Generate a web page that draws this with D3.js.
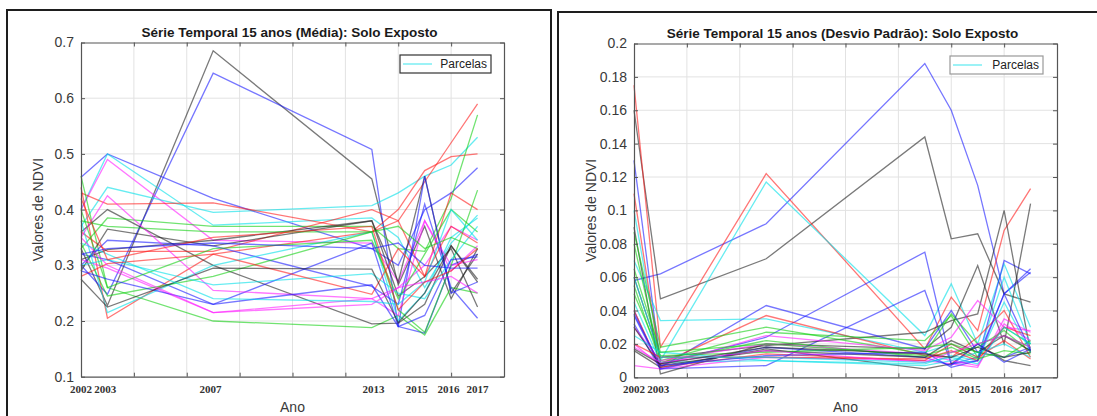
<!DOCTYPE html>
<html>
<head>
<meta charset="utf-8">
<script src="https://cdn.jsdelivr.net/npm/d3@7"></script>
<style>
  html, body { margin: 0; padding: 0; background: #fff; }
  svg { display: block; }
</style>
</head>
<body>
<svg id="chart" width="1097" height="416"></svg>
<script>
// Position of each survey date on the time axis (axis units, one grid step per unit)
const surveyPos = [0, 0.5, 2.5, 5.5, 6, 6.5, 7, 7.5];
// Year labels under the axis and where they sit on the same axis
const yearLabels = ["2002", "2003", "2007", "2013", "2015", "2016", "2017"];
const yearLabelPos = [0, 0.46, 2.45, 5.53, 6.35, 6.95, 7.5];

const meanTicks = [0.1, 0.2, 0.3, 0.4, 0.5, 0.6, 0.7];
const stdTicks = [0, 0.02, 0.04, 0.06, 0.08, 0.1, 0.12, 0.14, 0.16, 0.18, 0.2];

// Colour of each plot (parcela), MATLAB short colour names
const meanColors = ["k","b","b","c","m","c","r","r","g","k","g","r","k","k","b",
                    "b","c","m","m","g","g","c","r","b","k","m","g","c","r","b"];
const stdColors  = ["b","k","r","c","b","b","k","k","c","b","r","g","g","m","m",
                    "k","g","c","r","b","m","k","c","g","r","b","m","c","g","k"];

// Mean NDVI per plot at each survey
const meanSeries = [
  [0.33, 0.228, 0.685, 0.455, 0.265, 0.37, 0.24, 0.33],
  [0.30, 0.248, 0.645, 0.508, 0.19, 0.178, 0.30, 0.32],
  [0.458, 0.50, 0.42, 0.33, 0.30, 0.40, 0.43, 0.475],
  [0.40, 0.50, 0.372, 0.385, 0.35, 0.26, 0.34, 0.39],
  [0.40, 0.49, 0.345, 0.34, 0.27, 0.38, 0.29, 0.335],
  [0.37, 0.44, 0.395, 0.407, 0.43, 0.46, 0.48, 0.53],
  [0.43, 0.41, 0.412, 0.36, 0.40, 0.47, 0.495, 0.50],
  [0.44, 0.205, 0.32, 0.36, 0.38, 0.45, 0.52, 0.59],
  [0.46, 0.26, 0.20, 0.188, 0.21, 0.175, 0.26, 0.25],
  [0.36, 0.40, 0.30, 0.195, 0.196, 0.23, 0.335, 0.275],
  [0.33, 0.385, 0.37, 0.37, 0.33, 0.325, 0.42, 0.57],
  [0.36, 0.325, 0.325, 0.40, 0.38, 0.28, 0.43, 0.40],
  [0.29, 0.365, 0.335, 0.38, 0.245, 0.28, 0.33, 0.225],
  [0.31, 0.328, 0.345, 0.38, 0.27, 0.46, 0.25, 0.32],
  [0.30, 0.345, 0.335, 0.262, 0.23, 0.41, 0.26, 0.205],
  [0.32, 0.31, 0.23, 0.34, 0.19, 0.46, 0.25, 0.27],
  [0.38, 0.215, 0.30, 0.36, 0.20, 0.25, 0.35, 0.385],
  [0.35, 0.425, 0.255, 0.24, 0.21, 0.38, 0.30, 0.31],
  [0.31, 0.295, 0.215, 0.24, 0.26, 0.30, 0.37, 0.345],
  [0.40, 0.26, 0.33, 0.345, 0.24, 0.32, 0.40, 0.36],
  [0.34, 0.245, 0.28, 0.36, 0.22, 0.18, 0.30, 0.435],
  [0.30, 0.31, 0.265, 0.285, 0.25, 0.24, 0.31, 0.37],
  [0.28, 0.303, 0.32, 0.248, 0.33, 0.28, 0.37, 0.34],
  [0.29, 0.275, 0.23, 0.265, 0.19, 0.21, 0.31, 0.315],
  [0.275, 0.225, 0.295, 0.293, 0.197, 0.25, 0.335, 0.27],
  [0.35, 0.30, 0.215, 0.23, 0.26, 0.27, 0.28, 0.25],
  [0.38, 0.37, 0.36, 0.36, 0.37, 0.33, 0.35, 0.33],
  [0.34, 0.32, 0.24, 0.235, 0.23, 0.27, 0.40, 0.345],
  [0.42, 0.31, 0.35, 0.37, 0.22, 0.27, 0.29, 0.33],
  [0.32, 0.33, 0.34, 0.33, 0.34, 0.30, 0.295, 0.295]
];

// Standard deviation of NDVI per plot at each survey
const stdSeries = [
  [0.058, 0.062, 0.092, 0.188, 0.16, 0.115, 0.05, 0.063],
  [0.16, 0.047, 0.071, 0.144, 0.083, 0.086, 0.05, 0.045],
  [0.175, 0.018, 0.122, 0.017, 0.048, 0.028, 0.088, 0.113],
  [0.10, 0.01, 0.117, 0.025, 0.056, 0.02, 0.068, 0.03],
  [0.13, 0.008, 0.024, 0.075, 0.008, 0.01, 0.07, 0.062],
  [0.04, 0.005, 0.007, 0.052, 0.008, 0.012, 0.05, 0.065],
  [0.09, 0.002, 0.02, 0.017, 0.03, 0.067, 0.02, 0.104],
  [0.06, 0.012, 0.019, 0.027, 0.034, 0.038, 0.10, 0.015],
  [0.07, 0.034, 0.035, 0.015, 0.02, 0.012, 0.06, 0.02],
  [0.037, 0.006, 0.043, 0.017, 0.04, 0.015, 0.012, 0.018],
  [0.11, 0.008, 0.037, 0.013, 0.012, 0.024, 0.04, 0.012],
  [0.087, 0.018, 0.03, 0.014, 0.038, 0.02, 0.025, 0.018],
  [0.08, 0.01, 0.027, 0.022, 0.037, 0.012, 0.03, 0.02],
  [0.02, 0.007, 0.025, 0.016, 0.024, 0.046, 0.03, 0.028],
  [0.007, 0.005, 0.012, 0.01, 0.008, 0.006, 0.035, 0.027],
  [0.016, 0.006, 0.017, 0.005, 0.008, 0.02, 0.01, 0.007],
  [0.055, 0.009, 0.022, 0.012, 0.015, 0.018, 0.028, 0.015],
  [0.045, 0.009, 0.01, 0.008, 0.013, 0.01, 0.045, 0.015],
  [0.04, 0.006, 0.014, 0.01, 0.02, 0.012, 0.022, 0.011],
  [0.032, 0.005, 0.018, 0.012, 0.007, 0.02, 0.009, 0.017],
  [0.03, 0.01, 0.02, 0.014, 0.01, 0.007, 0.032, 0.022],
  [0.03, 0.007, 0.016, 0.012, 0.022, 0.015, 0.025, 0.016],
  [0.025, 0.015, 0.01, 0.007, 0.01, 0.015, 0.02, 0.012],
  [0.05, 0.013, 0.015, 0.018, 0.02, 0.015, 0.012, 0.022],
  [0.02, 0.012, 0.012, 0.011, 0.016, 0.01, 0.03, 0.025],
  [0.038, 0.007, 0.013, 0.015, 0.006, 0.01, 0.05, 0.016],
  [0.018, 0.009, 0.016, 0.009, 0.015, 0.02, 0.025, 0.018],
  [0.06, 0.012, 0.012, 0.009, 0.012, 0.008, 0.03, 0.02],
  [0.065, 0.015, 0.02, 0.013, 0.018, 0.011, 0.016, 0.014],
  [0.017, 0.008, 0.018, 0.014, 0.012, 0.018, 0.012, 0.015]
];

const colorMap = { c: "#00e0e8", r: "#ff1a1a", g: "#12d012", b: "#1a1aff", k: "#222222", m: "#ff1aff" };

const svg = d3.select("#chart");

const panels = [
  {
    frame: [7, 10, 544, 420],
    plot: { x0: 81, x1: 504, y0: 42.5, y1: 376.7 },
    domain: [0.1, 0.7], ticks: meanTicks,
    title: "Série Temporal 15 anos (Média): Solo Exposto",
    series: meanSeries, colors: meanColors,
    legend: { x: 400, y: 55, w: 91, h: 18, stroke: "#333" }
  },
  {
    frame: [558, 12, 540, 420],
    plot: { x0: 634, x1: 1057, y0: 43.5, y1: 377.3 },
    domain: [0, 0.2], ticks: stdTicks,
    title: "Série Temporal 15 anos (Desvio Padrão): Solo Exposto",
    series: stdSeries, colors: stdColors,
    legend: { x: 950, y: 56, w: 93, h: 18, stroke: "#999" }
  }
];

panels.forEach(p => {
  const [fx, fy, fw, fh] = p.frame;
  svg.append("rect")
    .attr("x", fx).attr("y", fy).attr("width", fw).attr("height", fh)
    .attr("fill", "none").attr("stroke", "#1e1e1e").attr("stroke-width", 2);

  const x = d3.scaleLinear().domain([0, 8]).range([p.plot.x0, p.plot.x1]);
  const y = d3.scaleLinear().domain(p.domain).range([p.plot.y1, p.plot.y0]);
  const g = svg.append("g");

  // grid
  g.append("g").selectAll("line.vg").data(d3.range(1, 8)).join("line")
    .attr("x1", d => x(d)).attr("x2", d => x(d))
    .attr("y1", p.plot.y0).attr("y2", p.plot.y1)
    .attr("stroke", "#e2e2e2").attr("stroke-width", 1);
  g.append("g").selectAll("line.hg").data(p.ticks.slice(1, -1)).join("line")
    .attr("x1", p.plot.x0).attr("x2", p.plot.x1)
    .attr("y1", d => y(d)).attr("y2", d => y(d))
    .attr("stroke", "#e2e2e2").attr("stroke-width", 1);

  // series
  const line = d3.line().x((d, i) => x(surveyPos[i])).y(d => y(d));
  g.append("g").selectAll("path").data(p.series).join("path")
    .attr("d", line)
    .attr("fill", "none")
    .attr("stroke", (d, i) => colorMap[p.colors[i]])
    .attr("stroke-opacity", 0.6)
    .attr("stroke-width", 1.3)
    .attr("stroke-linejoin", "miter");

  // axes (ticks inside the box)
  const axisStyle = sel => {
    sel.select(".domain").attr("stroke", "#555").attr("stroke-width", 1.2);
    sel.selectAll(".tick line").attr("stroke", "#555");
  };
  g.append("g").attr("transform", `translate(0,${p.plot.y1})`)
    .call(d3.axisBottom(x).ticks(8).tickSize(-4).tickSizeOuter(0).tickFormat(""))
    .call(axisStyle);
  g.append("g").attr("transform", `translate(0,${p.plot.y0})`)
    .call(d3.axisTop(x).ticks(8).tickSize(-4).tickSizeOuter(0).tickFormat(""))
    .call(axisStyle);
  g.append("g").attr("transform", `translate(${p.plot.x1},0)`)
    .call(d3.axisRight(y).tickValues(p.ticks).tickSize(-4).tickSizeOuter(0).tickFormat(""))
    .call(axisStyle);
  const yAx = g.append("g").attr("transform", `translate(${p.plot.x0},0)`)
    .call(d3.axisLeft(y).tickValues(p.ticks).tickSize(-4).tickSizeOuter(0)
      .tickPadding(7).tickFormat(d => String(+d.toFixed(2))))
    .call(axisStyle);
  yAx.selectAll(".tick text")
    .attr("font-family", "'Liberation Sans', Arial, sans-serif")
    .attr("font-size", 14).attr("fill", "#3a3a3a");

  // year labels
  g.append("g").selectAll("text").data(yearLabels).join("text")
    .attr("x", (d, i) => x(yearLabelPos[i]))
    .attr("y", p.plot.y1 + 16)
    .attr("text-anchor", "middle")
    .attr("font-family", "'Liberation Serif', 'Times New Roman', serif")
    .attr("font-size", 11).attr("font-weight", "bold").attr("fill", "#333")
    .text(d => d);

  const cx = (p.plot.x0 + p.plot.x1) / 2;
  const cy = (p.plot.y0 + p.plot.y1) / 2;

  // title
  g.append("text").attr("x", cx - 3).attr("y", p.plot.y0 - 6)
    .attr("text-anchor", "middle")
    .attr("font-family", "'Liberation Sans', Arial, sans-serif")
    .attr("font-size", 13.5).attr("font-weight", "bold").attr("fill", "#1a1a1a")
    .text(p.title);

  // axis labels
  g.append("text").attr("x", cx).attr("y", 412)
    .attr("text-anchor", "middle")
    .attr("font-family", "'Liberation Sans', Arial, sans-serif")
    .attr("font-size", 14).attr("fill", "#3a3a3a")
    .text("Ano");
  g.append("text")
    .attr("transform", `translate(${p.plot.x0 - 38},${cy}) rotate(-90)`)
    .attr("text-anchor", "middle")
    .attr("font-family", "'Liberation Sans', Arial, sans-serif")
    .attr("font-size", 14).attr("fill", "#3a3a3a")
    .text("Valores de NDVI");

  // legend
  const L = p.legend;
  const lg = g.append("g");
  lg.append("rect").attr("x", L.x).attr("y", L.y).attr("width", L.w).attr("height", L.h)
    .attr("fill", "#fff").attr("stroke", L.stroke).attr("stroke-width", 1.2);
  lg.append("line").attr("x1", L.x + 3).attr("x2", L.x + 32)
    .attr("y1", L.y + L.h / 2).attr("y2", L.y + L.h / 2)
    .attr("stroke", colorMap.c).attr("stroke-opacity", 0.6).attr("stroke-width", 1.3);
  lg.append("text").attr("x", L.x + L.w - 4).attr("y", L.y + L.h / 2 + 4)
    .attr("text-anchor", "end")
    .attr("font-family", "'Liberation Sans', Arial, sans-serif")
    .attr("font-size", 12).attr("fill", "#222")
    .text("Parcelas");
});
</script>
</body>
</html>
